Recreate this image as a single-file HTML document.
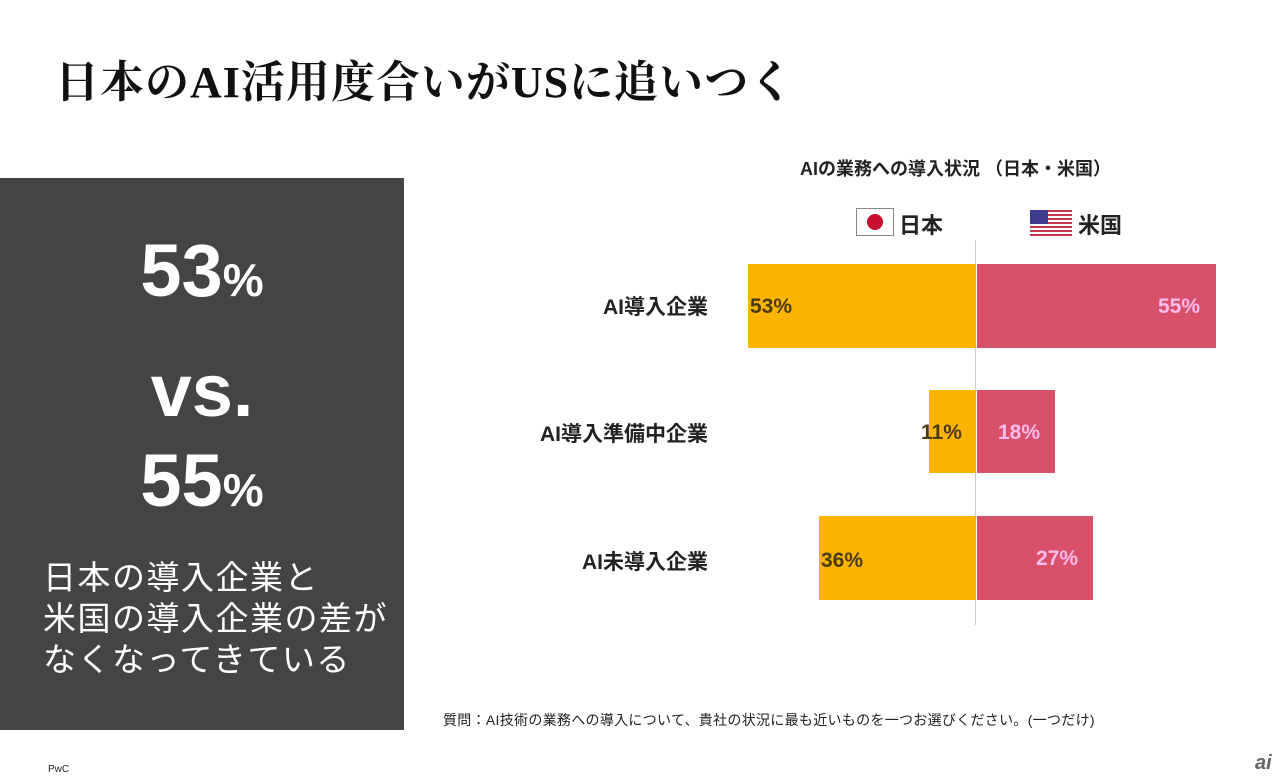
<!DOCTYPE html>
<html><head><meta charset="utf-8"><style>
body{margin:0;width:1280px;height:777px;background:#fff;position:relative;overflow:hidden;font-family:"Liberation Sans","Noto Sans CJK JP",sans-serif}
.a{position:absolute;white-space:nowrap}
.title{left:55px;top:46px;font-family:"Liberation Serif","Noto Serif CJK SC",serif;font-size:44px;color:#111;letter-spacing:1px;font-weight:bold}
.box{left:0;top:178px;width:404px;height:552px;background:#444}
.big{color:#fff;font-weight:bold;font-size:74px;width:404px;text-align:center;left:0}
.big small{font-size:46px}
.jp{color:#fff;font-size:33px;left:43px;line-height:41px;top:557px;letter-spacing:1.5px}
.bar{position:absolute}
.y{background:#FDB400}.r{background:#D9506A}
.lbl{font-weight:bold;font-size:21px;color:#222}
.cat{right:572px;text-align:right}
.pct{font-weight:bold;font-size:21px}
</style></head><body>
<div class="a title">日本のAI活用度合いがUSに追いつく</div>
<div class="a box"></div>
<div class="a big" style="top:228px">53<small>%</small></div>
<div class="a big" style="top:348px">vs.</div>
<div class="a big" style="top:438px">55<small>%</small></div>
<div class="a jp">日本の導入企業と<br>米国の導入企業の差が<br>なくなってきている</div>

<div class="a lbl" style="left:800px;top:155px;font-size:18px">AIの業務への導入状況 （日本・米国）</div>
<div class="a" style="left:856px;top:208px;width:36px;height:26px;border:1px solid #888;background:#fff"><div style="position:absolute;left:10px;top:5px;width:16px;height:16px;border-radius:50%;background:#c8102e"></div></div>
<div class="a lbl" style="left:899px;top:208px;font-size:22px">日本</div>
<div class="a" style="left:1030px;top:210px;width:42px;height:26px;background:repeating-linear-gradient(#c8334f 0 2px,#fff 2px 4px)"><div style="width:18px;height:14px;background:#3c3b8e"></div></div>
<div class="a lbl" style="left:1078px;top:208px;font-size:22px">米国</div>

<div class="a" style="left:975px;top:240px;width:1px;height:385px;background:#ccc"></div>
<div class="bar y" style="left:748px;top:264px;width:228px;height:84px"></div>
<div class="bar r" style="left:977px;top:264px;width:239px;height:84px"></div>
<div class="bar y" style="left:929px;top:390px;width:47px;height:83px"></div>
<div class="bar r" style="left:977px;top:390px;width:78px;height:83px"></div>
<div class="bar y" style="left:819px;top:516px;width:157px;height:84px"></div>
<div class="bar r" style="left:977px;top:516px;width:116px;height:84px"></div>

<div class="a pct" style="left:750px;top:295px;color:#4a3a10">53%</div>
<div class="a pct" style="left:1158px;top:295px;color:#fbe">55%</div>
<div class="a pct" style="left:921px;top:421px;color:#4a3a10">11%</div>
<div class="a pct" style="left:998px;top:421px;color:#fbe">18%</div>
<div class="a pct" style="left:821px;top:549px;color:#4a3a10">36%</div>
<div class="a pct" style="left:1036px;top:547px;color:#fbe">27%</div>

<div class="a lbl cat" style="top:291px">AI導入企業</div>
<div class="a lbl cat" style="top:418px">AI導入準備中企業</div>
<div class="a lbl cat" style="top:546px">AI未導入企業</div>

<div class="a" style="left:443px;top:710px;font-size:14px;color:#222;letter-spacing:0.3px">質問：AI技術の業務への導入について、貴社の状況に最も近いものを一つお選びください。(一つだけ)</div>
<div class="a" style="left:48px;top:764px;font-size:10px;color:#222">PwC</div>
<div class="a" style="left:1255px;top:752px;font-size:20px;color:#666;font-style:italic;font-weight:bold">ai</div>
</body></html>
